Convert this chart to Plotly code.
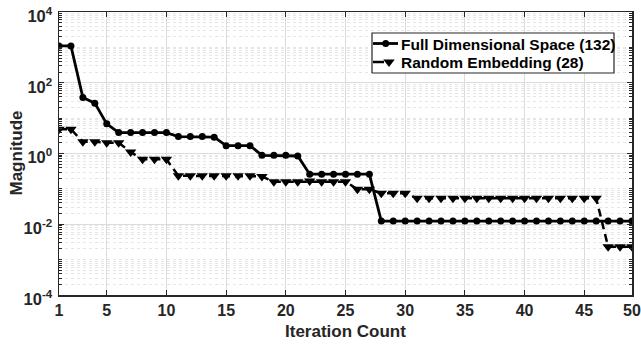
import plotly.graph_objects as go

# ---- data ----
iterations = list(range(1, 50))
full_space = [1100, 1100, 38, 26.5, 6.9,
              3.9, 3.9, 3.9, 3.9, 3.9,
              3.0, 3.0, 3.0, 2.9,
              1.66, 1.66, 1.66,
              0.89, 0.89, 0.89, 0.85,
              0.26, 0.26, 0.26, 0.26, 0.26, 0.26] + [0.0123] * 22
random_embed = [4.85, 4.85, 2.16, 2.16, 2.02, 2.02, 1.1, 0.685, 0.685, 0.685,
                0.235, 0.235, 0.235, 0.235, 0.235, 0.235, 0.235, 0.225,
                0.159, 0.159, 0.159, 0.167, 0.16, 0.16, 0.16,
                0.097, 0.097, 0.075, 0.075, 0.075] + [0.054] * 16 + [0.0023] * 3

series_names = ["Full Dimensional Space (132)", "Random Embedding (28)"]
x_tickvals = [1, 5, 10, 15, 20, 25, 30, 35, 40, 45, 49]
x_ticktext = ["1", "5", "10", "15", "20", "25", "30", "35", "40", "45", "50"]
y_exponents = [-4, -2, 0, 2, 4]

FONT = "Liberation Sans, Arial, Helvetica, sans-serif"
AX = "#262626"
W, H = 641, 346
ML, MR, MT, MB = 59, 9, 12, 51
PW, PH = W - ML - MR, H - MT - MB


def px_x(p):  # pixel column -> plot-area fraction
    return (p - ML) / PW


def px_y(p):  # pixel row -> plot-area fraction
    return (H - MB - p) / PH


y_tickvals = [10.0 ** e for e in y_exponents]
y_ticktext = ["<b>10<sup>%d</sup></b>" % e for e in y_exponents]
y_minor = [m * 10.0 ** k for k in range(-4, 4) for m in range(1, 10)
           if not (m == 1 and k in y_exponents)]

full_line = dict(color="black", width=2.8)
full_marker = dict(symbol="circle", size=7, color="black")
rand_line = dict(color="black", width=2.5, dash="8px,5px")
rand_marker = dict(symbol="triangle-down", size=10, color="black")

fig = go.Figure()
fig.add_trace(go.Scatter(x=iterations, y=full_space, mode="lines+markers",
                         name=series_names[0], line=full_line, marker=full_marker,
                         showlegend=False))
fig.add_trace(go.Scatter(x=iterations, y=random_embed, mode="lines+markers",
                         name=series_names[1], line=rand_line, marker=rand_marker,
                         showlegend=False))

# ---- hand-drawn legend on an overlay axis (fractions of the plot area) ----
bx0, bx1, by0, by1 = px_x(372), px_x(614), px_y(73), px_y(33)
fig.add_trace(go.Scatter(x=[bx0, bx1, bx1, bx0, bx0], y=[by0, by0, by1, by1, by0],
                         mode="lines", fill="toself", fillcolor="white",
                         line=dict(color=AX, width=1.2), xaxis="x2", yaxis="y2",
                         hoverinfo="skip", showlegend=False))
r1, r2 = px_y(43.5), px_y(62)
fig.add_trace(go.Scatter(x=[px_x(373), px_x(398)], y=[r1, r1], mode="lines",
                         line=full_line, xaxis="x2", yaxis="y2", hoverinfo="skip", showlegend=False))
fig.add_trace(go.Scatter(x=[px_x(385.7)], y=[r1], mode="markers", marker=full_marker,
                         xaxis="x2", yaxis="y2", hoverinfo="skip", showlegend=False))
fig.add_trace(go.Scatter(x=[px_x(373), px_x(384)], y=[r2, r2], mode="lines",
                         line=dict(color="black", width=2.5), xaxis="x2", yaxis="y2",
                         hoverinfo="skip", showlegend=False))
fig.add_trace(go.Scatter(x=[px_x(389)], y=[r2], mode="markers", marker=rand_marker,
                         xaxis="x2", yaxis="y2", hoverinfo="skip", showlegend=False))

annotations = [
    dict(text="<b>%s</b>" % series_names[0], xref="paper", yref="paper",
         x=px_x(398.5), y=px_y(44.5), xanchor="left", yanchor="middle", showarrow=False,
         font=dict(size=15.5, family=FONT, color="black")),
    dict(text="<b>%s</b>" % series_names[1], xref="paper", yref="paper",
         x=px_x(398.5), y=px_y(63), xanchor="left", yanchor="middle", showarrow=False,
         font=dict(size=15.5, family=FONT, color="black")),
    dict(text="<b>Iteration Count</b>", xref="paper", yref="paper",
         x=0.5, y=px_y(331), xanchor="center", yanchor="middle", showarrow=False,
         font=dict(size=17, family=FONT, color=AX)),
    dict(text="<b>Magnitude</b>", xref="paper", yref="paper",
         x=px_x(16), y=0.5, xanchor="center", yanchor="middle", showarrow=False,
         textangle=-90, font=dict(size=17, family=FONT, color=AX)),
]

fig.update_layout(
    width=W, height=H,
    margin=dict(l=ML, r=MR, t=MT, b=MB, autoexpand=False),
    paper_bgcolor="white", plot_bgcolor="white",
    font=dict(family=FONT, color=AX, size=16),
    showlegend=False,
    annotations=annotations,
    xaxis=dict(
        range=[1, 49], tickmode="array", tickvals=x_tickvals,
        ticktext=["<b>%s</b>" % t for t in x_ticktext],
        showgrid=True, gridcolor="#dcdcdc", gridwidth=1,
        showline=True, linecolor=AX, linewidth=1.5, mirror="allticks",
        ticks="inside", ticklen=5, tickcolor=AX, tickwidth=1,
        zeroline=False, automargin=False,
        tickfont=dict(size=16, family=FONT, color=AX),
    ),
    yaxis=dict(
        type="log", range=[-4, 4], tickmode="array", tickvals=y_tickvals, ticktext=y_ticktext,
        showgrid=True, gridcolor="#dcdcdc", gridwidth=1,
        showline=True, linecolor=AX, linewidth=1.5, mirror="allticks",
        ticks="inside", ticklen=5, tickcolor=AX, tickwidth=1,
        zeroline=False, automargin=False,
        ticklabelshift=4, ticklabelstandoff=2,
        tickfont=dict(size=16.5, family=FONT, color=AX),
        minor=dict(tickmode="array", tickvals=y_minor, ticks="inside", ticklen=3,
                   tickcolor=AX, showgrid=True, gridcolor="#e6e6e6", griddash="dot", gridwidth=1),
    ),
    xaxis2=dict(overlaying="x", range=[0, 1], visible=False, fixedrange=True),
    yaxis2=dict(overlaying="y", range=[0, 1], visible=False, fixedrange=True),
)

fig.write_html("out.html", config={"displayModeBar": False, "staticPlot": True},
               post_script="document.body.style.margin='0';document.body.style.overflow='hidden';")
